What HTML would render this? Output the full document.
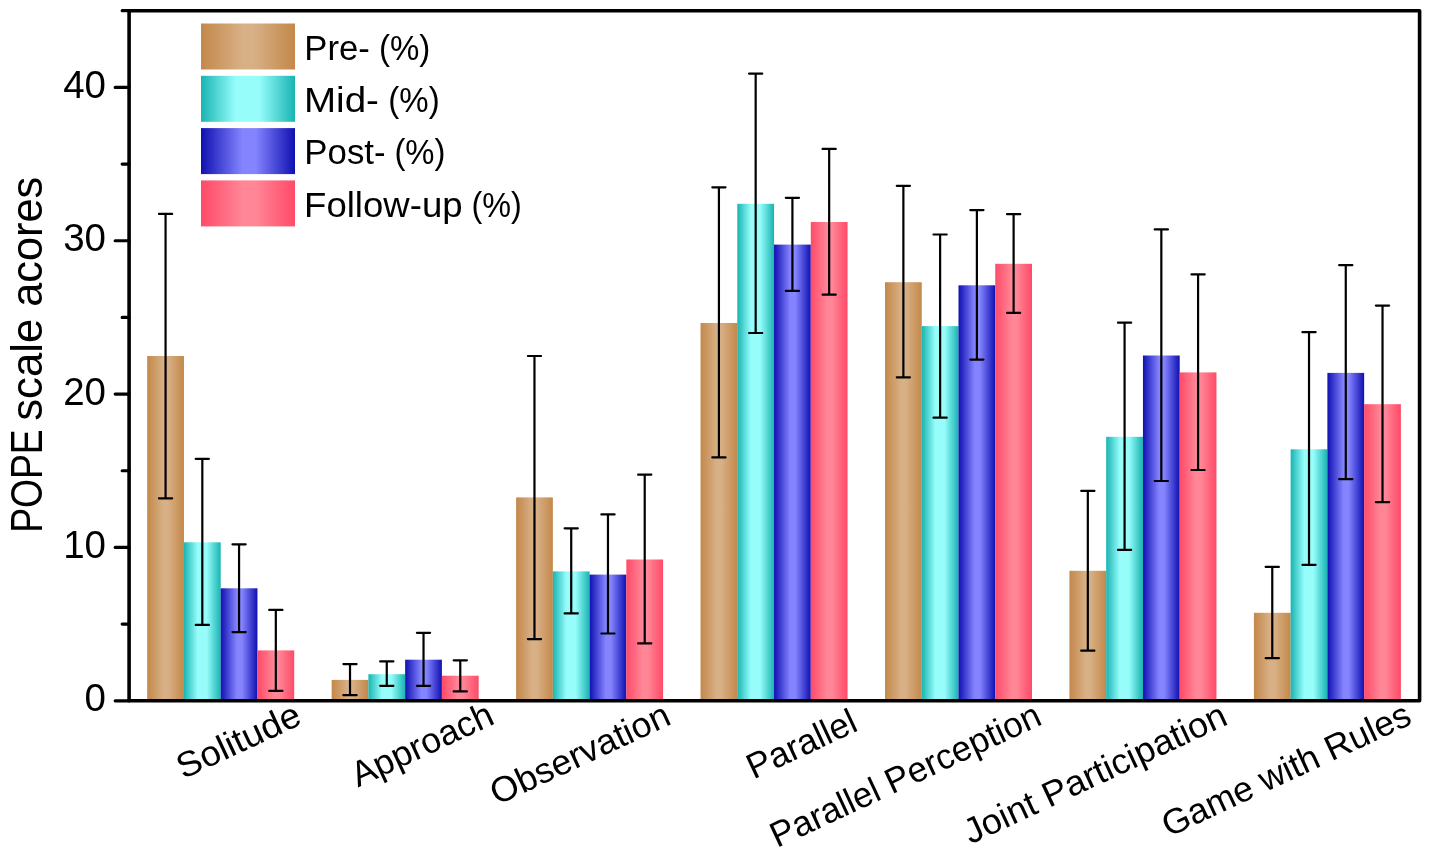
<!DOCTYPE html><html><head><meta charset="utf-8"><style>html,body{margin:0;padding:0;background:#fff;overflow:hidden}svg{display:block;will-change:transform}text{font-family:"Liberation Sans",sans-serif;fill:#000}</style></head><body>
<svg width="1430" height="855" viewBox="0 0 1430 855">
<defs>
<linearGradient id="gbr" x1="0" y1="0" x2="1" y2="0"><stop offset="0" stop-color="#c3884a"/><stop offset="0.44" stop-color="#d8b086"/><stop offset="0.56" stop-color="#d8b086"/><stop offset="1" stop-color="#c3884a"/></linearGradient>
<linearGradient id="gcy" x1="0" y1="0" x2="1" y2="0"><stop offset="0" stop-color="#18b4b2"/><stop offset="0.37" stop-color="#96fdfb"/><stop offset="0.62" stop-color="#96fdfb"/><stop offset="1" stop-color="#18b4b2"/></linearGradient>
<linearGradient id="gbl" x1="0" y1="0" x2="1" y2="0"><stop offset="0" stop-color="#1010b2"/><stop offset="0.44" stop-color="#8484ff"/><stop offset="0.58" stop-color="#8484ff"/><stop offset="1" stop-color="#1010b2"/></linearGradient>
<linearGradient id="gpk" x1="0" y1="0" x2="1" y2="0"><stop offset="0" stop-color="#ff4a68"/><stop offset="0.44" stop-color="#ff8696"/><stop offset="0.58" stop-color="#ff8696"/><stop offset="1" stop-color="#ff4a68"/></linearGradient>
</defs>
<rect width="1430" height="855" fill="#fff"/>
<rect x="147.20" y="356" width="36.75" height="344.80" fill="url(#gbr)"/>
<rect x="183.95" y="542.3" width="36.75" height="158.50" fill="url(#gcy)"/>
<rect x="220.70" y="588.3" width="36.75" height="112.50" fill="url(#gbl)"/>
<rect x="257.45" y="650.4" width="36.75" height="50.40" fill="url(#gpk)"/>
<rect x="331.65" y="679.9" width="36.75" height="20.90" fill="url(#gbr)"/>
<rect x="368.40" y="674.2" width="36.75" height="26.60" fill="url(#gcy)"/>
<rect x="405.15" y="659.7" width="36.75" height="41.10" fill="url(#gbl)"/>
<rect x="441.90" y="675.7" width="36.75" height="25.10" fill="url(#gpk)"/>
<rect x="516.10" y="497.4" width="36.75" height="203.40" fill="url(#gbr)"/>
<rect x="552.85" y="571.4" width="36.75" height="129.40" fill="url(#gcy)"/>
<rect x="589.60" y="574.6" width="36.75" height="126.20" fill="url(#gbl)"/>
<rect x="626.35" y="559.5" width="36.75" height="141.30" fill="url(#gpk)"/>
<rect x="700.55" y="323" width="36.75" height="377.80" fill="url(#gbr)"/>
<rect x="737.30" y="203.8" width="36.75" height="497.00" fill="url(#gcy)"/>
<rect x="774.05" y="244.6" width="36.75" height="456.20" fill="url(#gbl)"/>
<rect x="810.80" y="222" width="36.75" height="478.80" fill="url(#gpk)"/>
<rect x="885.00" y="282.2" width="36.75" height="418.60" fill="url(#gbr)"/>
<rect x="921.75" y="326.1" width="36.75" height="374.70" fill="url(#gcy)"/>
<rect x="958.50" y="285.3" width="36.75" height="415.50" fill="url(#gbl)"/>
<rect x="995.25" y="263.8" width="36.75" height="437.00" fill="url(#gpk)"/>
<rect x="1069.45" y="570.8" width="36.75" height="130.00" fill="url(#gbr)"/>
<rect x="1106.20" y="436.8" width="36.75" height="264.00" fill="url(#gcy)"/>
<rect x="1142.95" y="355.5" width="36.75" height="345.30" fill="url(#gbl)"/>
<rect x="1179.70" y="372.4" width="36.75" height="328.40" fill="url(#gpk)"/>
<rect x="1253.90" y="612.8" width="36.75" height="88.00" fill="url(#gbr)"/>
<rect x="1290.65" y="449.3" width="36.75" height="251.50" fill="url(#gcy)"/>
<rect x="1327.40" y="372.9" width="36.75" height="327.90" fill="url(#gbl)"/>
<rect x="1364.15" y="404.2" width="36.75" height="296.60" fill="url(#gpk)"/>
<path d="M165.57 213.9V498.3M158.97 213.9H172.17M158.97 498.3H172.17M202.32 458.8V624.9M195.72 458.8H208.92M195.72 624.9H208.92M239.07 544.3V632.1M232.47 544.3H245.67M232.47 632.1H245.67M275.82 609.9V690.9M269.22 609.9H282.43M269.22 690.9H282.43M350.02 664.1V695.2M343.42 664.1H356.62M343.42 695.2H356.62M386.77 661.4V685.8M380.17 661.4H393.38M380.17 685.8H393.38M423.52 632.8V685.8M416.92 632.8H430.12M416.92 685.8H430.12M460.27 660.3V691.4M453.67 660.3H466.88M453.67 691.4H466.88M534.47 356V639.1M527.87 356H541.07M527.87 639.1H541.07M571.22 528.3V613.4M564.62 528.3H577.82M564.62 613.4H577.82M607.97 514.4V633.5M601.37 514.4H614.57M601.37 633.5H614.57M644.72 474.7V643.4M638.12 474.7H651.32M638.12 643.4H651.32M718.92 187.3V457.4M712.32 187.3H725.52M712.32 457.4H725.52M755.67 73.6V333M749.07 73.6H762.27M749.07 333H762.27M792.42 197.8V290.9M785.82 197.8H799.02M785.82 290.9H799.02M829.17 148.9V294.7M822.57 148.9H835.77M822.57 294.7H835.77M903.38 185.8V377.3M896.77 185.8H909.98M896.77 377.3H909.98M940.12 234.5V417.7M933.52 234.5H946.73M933.52 417.7H946.73M976.88 210.1V359.6M970.27 210.1H983.48M970.27 359.6H983.48M1013.62 214.2V312.8M1007.02 214.2H1020.23M1007.02 312.8H1020.23M1087.83 490.9V650.7M1081.23 490.9H1094.42M1081.23 650.7H1094.42M1124.58 322.7V549.9M1117.98 322.7H1131.17M1117.98 549.9H1131.17M1161.33 229.4V481M1154.73 229.4H1167.92M1154.73 481H1167.92M1198.08 274.4V470M1191.48 274.4H1204.67M1191.48 470H1204.67M1272.27 566.9V658.2M1265.67 566.9H1278.87M1265.67 658.2H1278.87M1309.02 332.2V564.8M1302.42 332.2H1315.62M1302.42 564.8H1315.62M1345.77 265.2V479.2M1339.17 265.2H1352.37M1339.17 479.2H1352.37M1382.52 305.6V502.2M1375.92 305.6H1389.12M1375.92 502.2H1389.12" stroke="#000" stroke-width="2.2" stroke-linecap="round" fill="none"/>
<path d="M129.1 10.8V700.8M129.1 10.8H1419.6V700.8H129.1" stroke="#000" stroke-width="3.6" fill="none" stroke-linejoin="round" stroke-linecap="round"/>
<path d="M115.2 700.80H129.1M122.2 624.12H129.1M115.2 547.45H129.1M122.2 470.77H129.1M115.2 394.10H129.1M122.2 317.42H129.1M115.2 240.75H129.1M122.2 164.07H129.1M115.2 87.40H129.1M122.2 10.72H129.1" stroke="#000" stroke-width="3.2" stroke-linecap="round" fill="none"/>
<text x="106" y="711.40" font-size="38.5" text-anchor="end">0</text>
<text x="106" y="558.05" font-size="38.5" text-anchor="end">10</text>
<text x="106" y="404.70" font-size="38.5" text-anchor="end">20</text>
<text x="106" y="251.35" font-size="38.5" text-anchor="end">30</text>
<text x="106" y="98.00" font-size="38.5" text-anchor="end">40</text>
<text transform="translate(42.3,532.8) rotate(-90) scale(0.8356,1)" font-size="44.6">POPE</text>
<text transform="translate(42.3,420.8) rotate(-90) scale(0.981,1)" font-size="44.6">scale</text>
<text transform="translate(42.3,306.8) rotate(-90) scale(0.971,1)" font-size="44.6">acores</text>
<rect x="201" y="23.50" width="94" height="46" fill="url(#gbr)"/>
<text transform="translate(304.33,59.6) scale(0.99,1)" font-size="35">Pre-</text>
<text transform="translate(378.91,59.6) scale(0.944,1)" font-size="35">(%)</text>
<rect x="201" y="75.80" width="94" height="46" fill="url(#gcy)"/>
<text transform="translate(304.0,111.5) scale(1.1016,1)" font-size="35">Mid-</text>
<text transform="translate(388.31,111.5) scale(0.944,1)" font-size="35">(%)</text>
<rect x="201" y="128.10" width="94" height="46" fill="url(#gbl)"/>
<text transform="translate(304.32,163.9) scale(0.9948,1)" font-size="35">Post-</text>
<text transform="translate(394.42,163.9) scale(0.938,1)" font-size="35">(%)</text>
<rect x="201" y="180.40" width="94" height="46" fill="url(#gpk)"/>
<text transform="translate(304.07,216.7) scale(1.045,1)" font-size="35">Follow-up</text>
<text transform="translate(471.55,216.7) scale(0.924,1)" font-size="35">(%)</text>
<text transform="translate(292.4,699.90) rotate(-25) scale(1.033,1)" font-size="35.5" text-anchor="end" dominant-baseline="hanging">Solitude</text>
<text transform="translate(485.4,699.85) rotate(-25) scale(1.003,1)" font-size="35.5" text-anchor="end" dominant-baseline="hanging">Approach</text>
<text transform="translate(662.1,700.55) rotate(-25) scale(1.014,1)" font-size="35.5" text-anchor="end" dominant-baseline="hanging">Observation</text>
<text transform="translate(848.8,706.65) rotate(-25) scale(0.99,1)" font-size="35.5" text-anchor="end" dominant-baseline="hanging">Parallel</text>
<text transform="translate(1032.8,700.40) rotate(-25) scale(0.988,1)" font-size="35.5" text-anchor="end" dominant-baseline="hanging">Parallel Perception</text>
<text transform="translate(1218.9,700.80) rotate(-25) scale(1.021,1)" font-size="35.5" text-anchor="end" dominant-baseline="hanging">Joint Participation</text>
<text transform="translate(1402.9,699.95) rotate(-25) scale(1.0,1)" font-size="35.5" text-anchor="end" dominant-baseline="hanging">Game with Rules</text>
</svg></body></html>
